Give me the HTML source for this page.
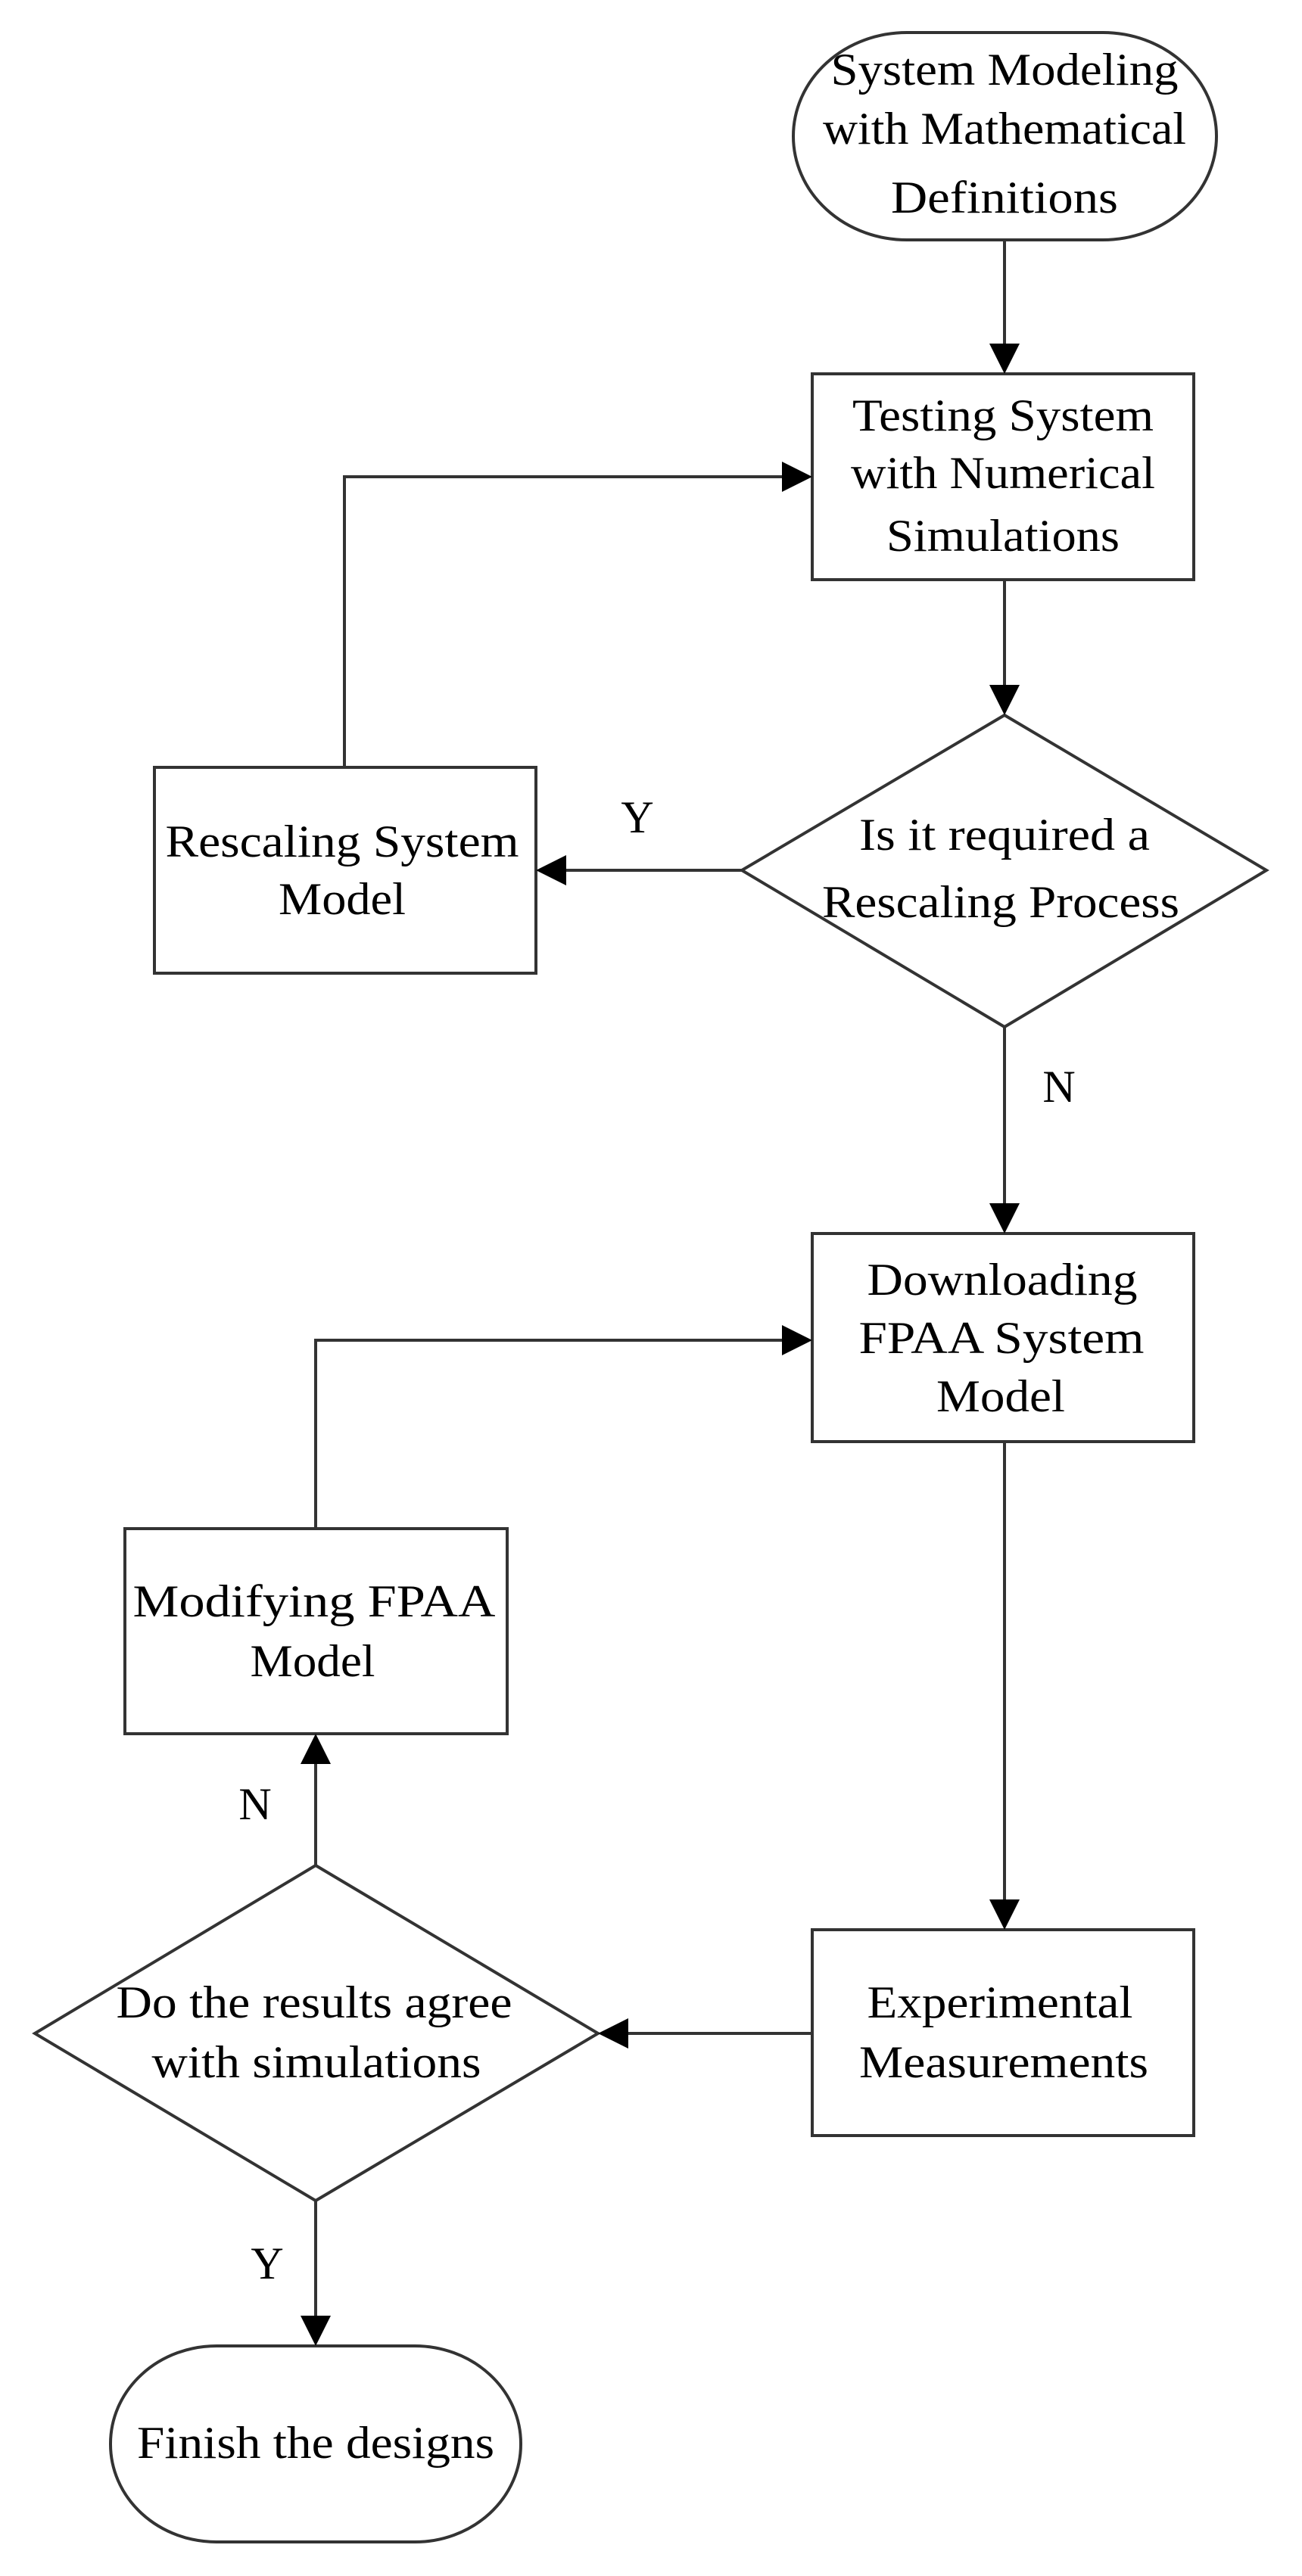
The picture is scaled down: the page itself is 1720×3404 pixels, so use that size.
<!DOCTYPE html>
<html><head><meta charset="utf-8"><style>
html,body{margin:0;padding:0;background:#fff;}
svg{display:block;}
text{font-family:"Liberation Serif",serif;font-size:60px;fill:#000;text-anchor:middle;}
</style></head><body>
<svg width="1720" height="3404" viewBox="0 0 1720 3404" xmlns="http://www.w3.org/2000/svg">
<defs>
<marker id="a" markerWidth="10" markerHeight="10" refX="10" refY="5" orient="auto" markerUnits="userSpaceOnUse" viewBox="0 0 10 10" style="overflow:visible">
</marker>
</defs>
<g fill="none" stroke="#333" stroke-width="4">
<rect x="1048" y="43" width="559" height="274" rx="150" ry="137"/>
<rect x="1073" y="494" width="504" height="272"/>
<rect x="204" y="1014" width="504" height="272"/>
<polygon points="1327,945 1673,1150 1327,1357 980,1150"/>
<rect x="1073" y="1630" width="504" height="275"/>
<rect x="165" y="2020" width="505" height="271"/>
<polygon points="417,2465 790,2687 417,2908 46,2687"/>
<rect x="1073" y="2550" width="504" height="272"/>
<rect x="146" y="3100" width="542" height="259" rx="140" ry="129"/>
<path d="M1327 317V456"/>
<path d="M1327 766V907"/>
<path d="M980 1150H746"/>
<path d="M455 1014V630H1035"/>
<path d="M1327 1357V1592"/>
<path d="M1327 1905V2512"/>
<path d="M1073 2687H828"/>
<path d="M417 2465V2329"/>
<path d="M417 2020V1771H1035"/>
<path d="M417 2908V3062"/>
</g>
<g fill="#000">
<polygon points="1327,494 1307,454 1347,454"/>
<polygon points="1327,945 1307,905 1347,905"/>
<polygon points="708,1150 748,1130 748,1170"/>
<polygon points="1073,630 1033,610 1033,650"/>
<polygon points="1327,1630 1307,1590 1347,1590"/>
<polygon points="1327,2550 1307,2510 1347,2510"/>
<polygon points="790,2687 830,2667 830,2707"/>
<polygon points="417,2291 397,2331 437,2331"/>
<polygon points="1073,1771 1033,1751 1033,1791"/>
<polygon points="417,3100 397,3060 437,3060"/>
</g>
<text x="1327" y="112" textLength="459" lengthAdjust="spacingAndGlyphs">System Modeling</text>
<text x="1327" y="190" textLength="480" lengthAdjust="spacingAndGlyphs">with Mathematical</text>
<text x="1327" y="281" textLength="300" lengthAdjust="spacingAndGlyphs">Definitions</text>
<text x="1325" y="569" textLength="398" lengthAdjust="spacingAndGlyphs">Testing System</text>
<text x="1325" y="645" textLength="402" lengthAdjust="spacingAndGlyphs">with Numerical</text>
<text x="1325" y="728" textLength="308" lengthAdjust="spacingAndGlyphs">Simulations</text>
<text x="452" y="1132" textLength="467" lengthAdjust="spacingAndGlyphs">Rescaling System</text>
<text x="452" y="1208" textLength="168" lengthAdjust="spacingAndGlyphs">Model</text>
<text x="1327" y="1123" textLength="384" lengthAdjust="spacingAndGlyphs">Is it required a</text>
<text x="1322" y="1212" textLength="472" lengthAdjust="spacingAndGlyphs">Rescaling Process</text>
<text x="842" y="1100">Y</text>
<text x="1399" y="1456">N</text>
<text x="1324" y="1711" textLength="357" lengthAdjust="spacingAndGlyphs">Downloading</text>
<text x="1323" y="1788" textLength="377" lengthAdjust="spacingAndGlyphs">FPAA System</text>
<text x="1322" y="1865" textLength="170" lengthAdjust="spacingAndGlyphs">Model</text>
<text x="415" y="2136" textLength="479" lengthAdjust="spacingAndGlyphs">Modifying  FPAA</text>
<text x="413" y="2215" textLength="165" lengthAdjust="spacingAndGlyphs">Model</text>
<text x="337" y="2404">N</text>
<text x="415" y="2666" textLength="523" lengthAdjust="spacingAndGlyphs">Do the results agree</text>
<text x="418" y="2745" textLength="435" lengthAdjust="spacingAndGlyphs">with simulations</text>
<text x="1321" y="2666" textLength="351" lengthAdjust="spacingAndGlyphs">Experimental</text>
<text x="1326" y="2745" textLength="382" lengthAdjust="spacingAndGlyphs">Measurements</text>
<text x="353" y="3011">Y</text>
<text x="417" y="3248" textLength="472" lengthAdjust="spacingAndGlyphs">Finish the designs</text>
</svg>
</body></html>
